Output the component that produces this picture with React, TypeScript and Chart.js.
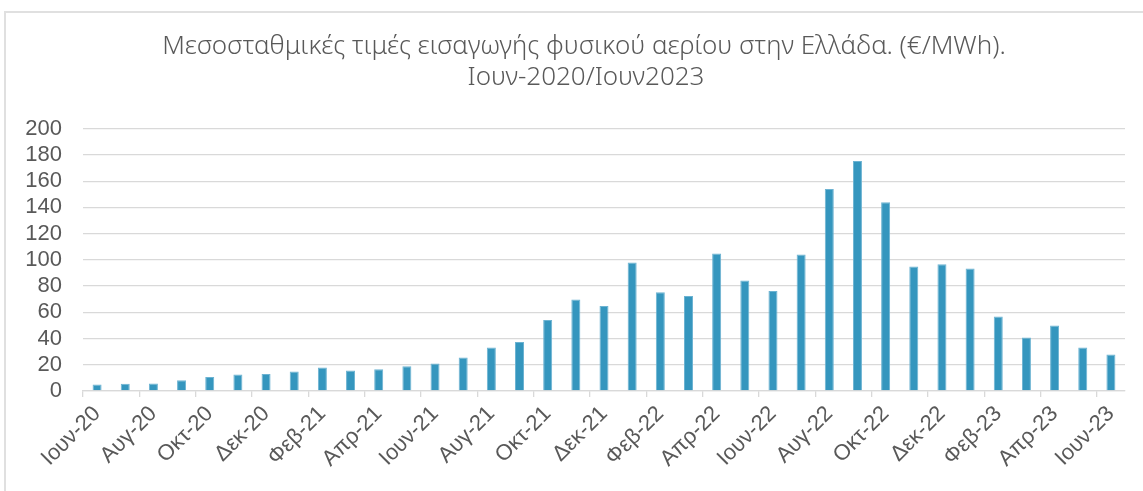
import React, { useEffect, useRef } from 'react';
import { Chart, registerables } from 'chart.js';

Chart.register(...registerables);

const titleLines = [
  'Μεσοσταθμικές τιμές εισαγωγής φυσικού αερίου στην Ελλάδα. (€/MWh).',
  'Ιουν-2020/Ιουν2023',
];

const months = [
  'Ιουν-20', 'Ιουλ-20', 'Αυγ-20', 'Σεπ-20', 'Οκτ-20', 'Νοε-20', 'Δεκ-20',
  'Ιαν-21', 'Φεβ-21', 'Μαρ-21', 'Απρ-21', 'Μαϊ-21', 'Ιουν-21', 'Ιουλ-21',
  'Αυγ-21', 'Σεπ-21', 'Οκτ-21', 'Νοε-21', 'Δεκ-21', 'Ιαν-22', 'Φεβ-22',
  'Μαρ-22', 'Απρ-22', 'Μαϊ-22', 'Ιουν-22', 'Ιουλ-22', 'Αυγ-22', 'Σεπ-22',
  'Οκτ-22', 'Νοε-22', 'Δεκ-22', 'Ιαν-23', 'Φεβ-23', 'Μαρ-23', 'Απρ-23',
  'Μαϊ-23', 'Ιουν-23',
];

const prices = [
  5, 5.6, 5.7, 8.2, 10.7, 12.5, 13, 14.8, 17.9, 15.6, 16.6, 18.9, 20.9, 25.5,
  33.1, 37.4, 54.2, 69.8, 64.9, 98, 75.3, 72.5, 104.9, 84.3, 76.3, 104.1, 154,
  175.3, 144, 95, 96.7, 93.4, 56.8, 40.7, 49.9, 33.1, 27.8,
];

const yMin = 0;
const yMax = 200;
const yStep = 20;

const titlePlugin = {
  id: 'customTitle',
  afterDraw(chart: any) {
    const ctx = chart.ctx;
    ctx.save();
    ctx.fillStyle = '#595959';
    ctx.font = "300 26px 'Noto Sans', sans-serif";
    ctx.textAlign = 'center';
    ctx.textBaseline = 'middle';
    ctx.fillText(titleLines[0], 584, 47);
    ctx.fillText(titleLines[1], 586, 78);
    ctx.restore();
  },
};

export default function App() {
  const ref = useRef<HTMLCanvasElement>(null);

  useEffect(() => {
    document.body.style.margin = '0';
    const canvas = ref.current;
    if (!canvas) return;
    const tickFont = { family: "'Liberation Sans', Arial, sans-serif", size: 22 };
    const chart = new Chart(canvas, {
      type: 'bar',
      data: {
        labels: months,
        datasets: [
          {
            data: prices,
            backgroundColor: '#3596BE',
            borderColor: '#6cb3d2',
            borderWidth: 1,
            barPercentage: 0.32,
            categoryPercentage: 1,
          },
        ],
      },
      options: {
        responsive: false,
        animation: false,
        devicePixelRatio: 1,
        layout: { padding: { left: 0, right: 18, top: 128.7, bottom: 0 } },
        plugins: {
          legend: { display: false },
          tooltip: { enabled: false },
          title: { display: false },
        },
        scales: {
          x: {
            afterFit: (s: any) => { s.height = 100; },
            grid: {
              display: true,
              drawOnChartArea: false,
              drawTicks: true,
              tickLength: 6,
              offset: true,
              color: (c: any) => (typeof c.index === 'number' && c.index % 2 === 0 ? '#d9d9d9' : 'rgba(0,0,0,0)'),
              lineWidth: 1.3,
            },
            border: { display: true, color: '#d9d9d9', width: 1.3 },
            ticks: {
              autoSkip: false,
              minRotation: 45,
              maxRotation: 45,
              padding: 4,
              color: '#595959',
              font: tickFont,
              callback: (_v: any, i: number) => (i % 2 === 0 ? months[i] : ''),
            },
          },
          y: {
            min: yMin,
            max: yMax,
            afterFit: (s: any) => { s.width = 83; },
            border: { display: false },
            grid: { color: '#d9d9d9', lineWidth: 1.3, drawTicks: false },
            ticks: {
              stepSize: yStep,
              autoSkip: false,
              padding: 21,
              color: '#595959',
              font: tickFont,
            },
          },
        },
      },
      plugins: [titlePlugin],
    });
    return () => chart.destroy();
  }, []);

  return (
    <div style={{ position: 'relative', width: 1143, height: 491, overflow: 'hidden', background: '#fff' }}>
      <div
        style={{
          position: 'absolute',
          left: 4,
          top: 11,
          width: 1300,
          height: 700,
          borderLeft: '2px solid #e0e0e0',
          borderTop: '2px solid #e0e0e0',
        }}
      />
      <canvas
        ref={ref}
        width={1143}
        height={491}
        style={{ position: 'absolute', left: 0, top: 0, width: 1143, height: 491 }}
      />
    </div>
  );
}
